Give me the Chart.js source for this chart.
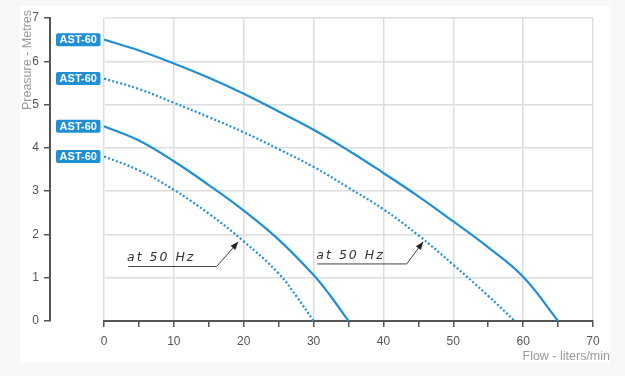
<!DOCTYPE html>
<html><head><meta charset="utf-8">
<script src="https://cdn.jsdelivr.net/npm/chart.js@4/dist/chart.umd.min.js"></script>
<style>html,body{margin:0;padding:0;background:#f8f8f8;}#wrap{width:625px;height:376px;position:relative}</style>
</head><body><div id="wrap"><canvas id="c" width="625" height="376"></canvas></div>
<script>
// ---- data ----
const seriesLabels = ['AST-60', 'AST-60', 'AST-60', 'AST-60'];

const flowHigh60 = [0, 5, 10, 15, 20, 25, 30, 35, 40, 45, 50, 55, 60, 65];
const presHigh60 = [6.5, 6.25, 5.95, 5.62, 5.25, 4.84, 4.42, 3.94, 3.42, 2.88, 2.3, 1.7, 1.02, 0];

const flowHigh50 = [0, 5, 10, 15, 20, 25, 30, 35, 40, 45, 50, 55, 58.8];
const presHigh50 = [5.6, 5.36, 5.04, 4.71, 4.36, 3.97, 3.56, 3.08, 2.58, 1.98, 1.3, 0.58, 0];

const flowLow60 = [0, 5, 10, 15, 20, 25, 30, 32.5, 35];
const presLow60 = [4.5, 4.17, 3.69, 3.14, 2.55, 1.88, 1.06, 0.56, 0];

const flowLow50 = [0, 5, 10, 15, 20, 25, 27.5, 30];
const presLow50 = [3.8, 3.48, 3.03, 2.48, 1.84, 1.1, 0.58, 0];

const xTickValues = [0, 10, 20, 30, 40, 50, 60, 70];
const yTickValues = [0, 1, 2, 3, 4, 5, 6, 7];

const noteLabels = ['at 50 Hz', 'at 50 Hz'];
const noteTextX = [3.3, 30.4];
const noteTextY = [1.386, 1.425];
const noteLineStartX = [3.48, 30.53];
const noteLineEndX = [16.13, 43.33];
const noteLineY = [1.27, 1.33];
const noteTipX = [19.22, 45.7];
const noteTipY = [1.83, 1.83];

const xTitle = 'Flow - liters/min';
const yTitle = 'Preasure - Metres';

// ---- build ----
const BLUE = '#1f8fd6';
function pts(xs, ys) { return xs.map((x, i) => ({x: x, y: ys[i]})); }
function ds(label, xs, ys, dotted) {
  return {
    label: label, data: pts(xs, ys), borderColor: BLUE, backgroundColor: BLUE,
    borderWidth: 2.2, borderDash: dotted ? [2, 2.2] : [],
    pointRadius: 0, fill: false, showLine: true,
    tension: 0.4, borderCapStyle: 'butt'
  };
}

const bgPlugin = {
  id: 'bg',
  beforeDraw(chart) {
    const c = chart.ctx;
    c.save();
    c.fillStyle = '#f8f8f8';
    c.fillRect(0, 0, chart.width, chart.height);
    c.fillStyle = '#ffffff';
    c.fillRect(20, 6, 590, 357);
    c.restore();
  }
};

const decoPlugin = {
  id: 'deco',
  afterDraw(chart) {
    const c = chart.ctx;
    const xs = chart.scales.x, ys = chart.scales.y;
    const area = chart.chartArea;
    c.save();
    // badges
    chart.data.datasets.forEach((d) => {
      const py = ys.getPixelForValue(d.data[0].y);
      const x1 = area.left - 48, x2 = area.left - 3.5, h = 13;
      c.fillStyle = BLUE;
      c.beginPath();
      c.roundRect(x1, py - h / 2, x2 - x1, h, 2);
      c.fill();
      c.fillStyle = '#ffffff';
      c.font = 'bold 11px "Liberation Sans", Arial, sans-serif';
      c.textAlign = 'center';
      c.textBaseline = 'middle';
      c.fillText(d.label, (x1 + x2) / 2, py + 0.5);
    });
    // annotations
    noteLabels.forEach((t, i) => {
      const sx = xs.getPixelForValue(noteLineStartX[i]);
      const ex = xs.getPixelForValue(noteLineEndX[i]);
      const ly = ys.getPixelForValue(noteLineY[i]);
      const tx = xs.getPixelForValue(noteTipX[i]);
      const ty = ys.getPixelForValue(noteTipY[i]);
      c.strokeStyle = '#444';
      c.lineWidth = 1;
      c.beginPath();
      c.moveTo(sx, ly + 0.5);
      c.lineTo(ex, ly + 0.5);
      c.lineTo(tx, ty);
      c.stroke();
      const ang = Math.atan2(ty - ly, tx - ex);
      const L = 8, W = 3.2;
      const bx = tx - L * Math.cos(ang), by = ty - L * Math.sin(ang);
      c.fillStyle = '#222';
      c.beginPath();
      c.moveTo(tx, ty);
      c.lineTo(bx + W * Math.sin(ang), by - W * Math.cos(ang));
      c.lineTo(bx - W * Math.sin(ang), by + W * Math.cos(ang));
      c.closePath();
      c.fill();
      c.fillStyle = '#333';
      c.font = 'italic 200 12.5px "DejaVu Sans", sans-serif';
      c.letterSpacing = '2px';
      c.textAlign = 'left';
      c.textBaseline = 'alphabetic';
      c.fillText(t, xs.getPixelForValue(noteTextX[i]), ys.getPixelForValue(noteTextY[i]));
      c.letterSpacing = '0px';
    });
    // axis titles
    c.fillStyle = '#9a9a9a';
    c.font = '12.5px "Liberation Sans", Arial, sans-serif';
    c.textAlign = 'right';
    c.textBaseline = 'alphabetic';
    c.fillText(xTitle, area.right + 17, area.bottom + 38.5);
    c.translate(30.5, area.top - 8);
    c.rotate(-Math.PI / 2);
    c.fillText(yTitle, 0, 0);
    c.restore();
  }
};

new Chart(document.getElementById('c'), {
  type: 'line',
  data: {
    datasets: [
      ds(seriesLabels[0], flowHigh60, presHigh60, false),
      ds(seriesLabels[1], flowHigh50, presHigh50, true),
      ds(seriesLabels[2], flowLow60, presLow60, false),
      ds(seriesLabels[3], flowLow50, presLow50, true)
    ]
  },
  options: {
    responsive: false, animation: false, devicePixelRatio: 1,
    layout: {padding: {left: 0, right: 32, top: 18, bottom: 0}},
    plugins: {legend: {display: false}, tooltip: {enabled: false}},
    scales: {
      x: {
        type: 'linear', min: 0, max: 70,
        afterFit(s) { s.height = 55; },
        ticks: {
          stepSize: 5, autoSkip: false, maxRotation: 0, padding: 7,
          color: '#555', font: {family: '"Liberation Sans", Arial, sans-serif', size: 12},
          callback: (v) => xTickValues.includes(v) ? String(v) : ''
        },
        grid: {
          color: (ctx) => (ctx.tick && xTickValues.includes(ctx.tick.value)) ? '#dddddd' : 'rgba(0,0,0,0)',
          lineWidth: 1.5, tickColor: '#555', tickLength: 6, tickWidth: 1.5
        },
        border: {color: '#555', width: 2}
      },
      y: {
        type: 'linear', min: 0, max: 7, position: 'left', weight: 1,
        afterFit(s) { s.width = 50; },
        afterBuildTicks(s) { s.ticks = yTickValues.map(v => ({value: v})); },
        ticks: {
          padding: 5, color: '#555', font: {family: '"Liberation Sans", Arial, sans-serif', size: 12}
        },
        grid: {color: '#dddddd', lineWidth: 1.5, tickColor: '#555', tickLength: 6, tickWidth: 1.5},
        border: {color: '#555', width: 2}
      },
      yGap: {
        type: 'linear', position: 'left', weight: 0, display: true,
        afterFit(s) { s.width = 54; },
        ticks: {display: false}, grid: {display: false}, border: {display: false}
      }
    }
  },
  plugins: [bgPlugin, decoPlugin]
});
</script></body></html>
